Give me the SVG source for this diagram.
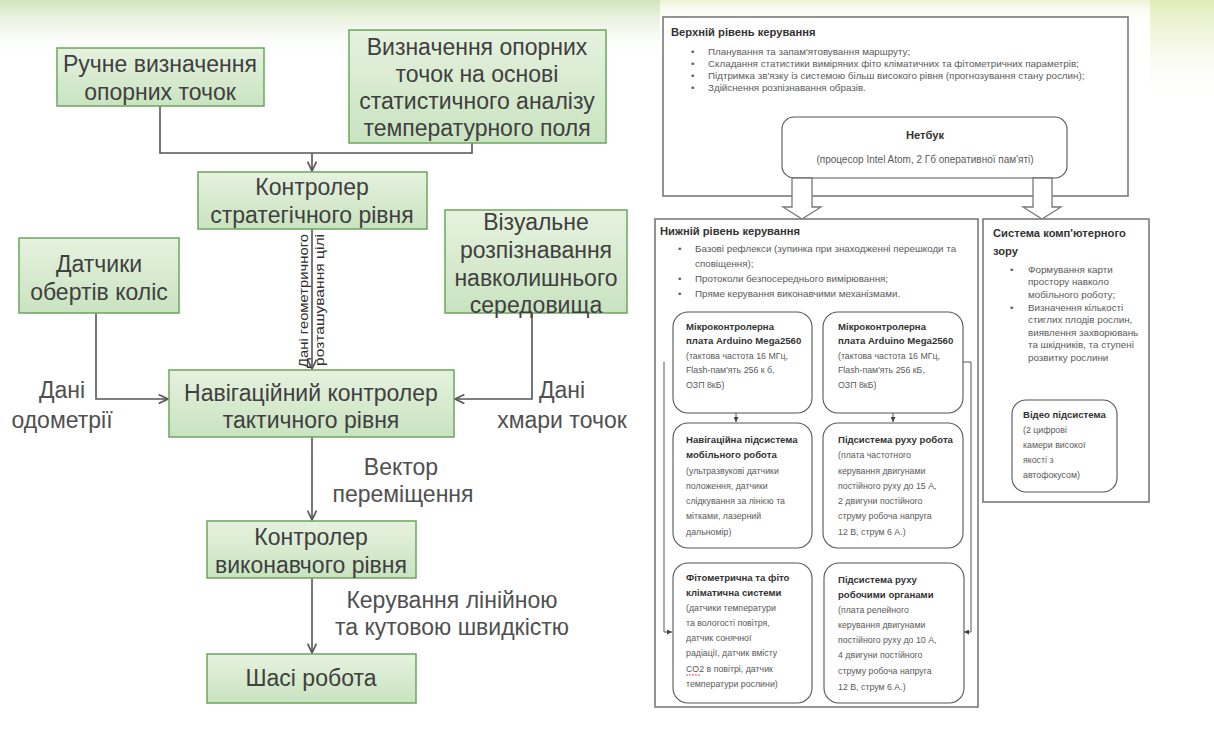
<svg xmlns="http://www.w3.org/2000/svg" width="1214" height="731" viewBox="0 0 1214 731">
  <style>
    .gbox { fill: url(#greenFill); stroke: #6aa65c; stroke-width: 1.5; }
    .gtxt { font-family: "Liberation Sans", Arial, sans-serif; font-size: 23px; fill: #404040; text-anchor: middle; }
    .ltxt { font-family: "Liberation Sans", Arial, sans-serif; font-size: 23px; fill: #505050; text-anchor: middle; }
    .rot { font-family: "Liberation Sans", Arial, sans-serif; font-size: 13px; fill: #303030; }
    .conn { fill: none; stroke: #555; stroke-width: 1.6; }
    .frame { fill: #fff; stroke: #7a7a7a; stroke-width: 1.6; }
    .rbox { fill: #fff; stroke: #555; stroke-width: 1.1; }
    .h { font-family: "Liberation Sans", Arial, sans-serif; font-size: 11.2px; font-weight: bold; fill: #333; }
    .hb { font-family: "Liberation Sans", Arial, sans-serif; font-size: 9.6px; font-weight: bold; fill: #333; }
    .t { font-family: "Liberation Sans", Arial, sans-serif; font-size: 9.8px; fill: #5a5a5a; }
    .tn { font-family: "Liberation Sans", Arial, sans-serif; font-size: 10px; fill: #5a5a5a; }
    .ts { font-family: "Liberation Sans", Arial, sans-serif; font-size: 8.8px; fill: #5a5a5a; }
    .thin { fill: none; stroke: #555; stroke-width: 1; }
    .blk { fill: #fff; stroke: #777; stroke-width: 1.3; }
  </style>
  <defs>
    <linearGradient id="greenFill" x1="0" y1="0" x2="0" y2="1">
      <stop offset="0" stop-color="#e6f2df"/>
      <stop offset="1" stop-color="#c9e3c0"/>
    </linearGradient>
    <linearGradient id="topHaze" x1="0" y1="0" x2="0" y2="1">
      <stop offset="0" stop-color="#c9e0b0" stop-opacity="0.85"/>
      <stop offset="1" stop-color="#ffffff" stop-opacity="0"/>
    </linearGradient>
    <linearGradient id="sideHaze" x1="0" y1="0" x2="0" y2="1">
      <stop offset="0" stop-color="#dfeab0" stop-opacity="0.9"/>
      <stop offset="1" stop-color="#ffffff" stop-opacity="0"/>
    </linearGradient>
    <marker id="open" viewBox="0 0 10 10" refX="9.5" refY="5" markerWidth="11" markerHeight="11" markerUnits="userSpaceOnUse" orient="auto">
      <path d="M1,1 L9.5,5 L1,9" fill="none" stroke="#555" stroke-width="1.5"/>
    </marker>
    <marker id="tiny" viewBox="0 0 6 6" refX="6" refY="3" markerWidth="5" markerHeight="5" markerUnits="userSpaceOnUse" orient="auto">
      <path d="M0,0 L6,3 L0,6 z" fill="#444"/>
    </marker>
  </defs>

  <!-- page background -->
  <rect x="0" y="0" width="1214" height="731" fill="#fff"/>
  <rect x="0" y="0" width="660" height="60" fill="url(#topHaze)"/>
  <rect x="660" y="0" width="490" height="22" fill="url(#sideHaze)" opacity="0.6"/>
  <rect x="1150" y="0" width="64" height="110" fill="url(#sideHaze)"/>

  <!-- ===== Left scheme: control hierarchy ===== -->
  <g id="connectors-left">
    <path class="conn" d="M160,106 V153 H472 V143"/>
    <path class="conn" d="M312,153 V171" marker-end="url(#open)"/>
    <path class="conn" d="M312,229 V369" marker-end="url(#open)"/>
    <path class="conn" d="M96,313 V399 H168" marker-end="url(#open)"/>
    <path class="conn" d="M532,313 V399 H455" marker-end="url(#open)"/>
    <path class="conn" d="M312,437 V520" marker-end="url(#open)"/>
    <path class="conn" d="M312,578 V653" marker-end="url(#open)"/>
    <text class="rot" transform="translate(308,368) rotate(-90)" textLength="134" lengthAdjust="spacingAndGlyphs">Дані геометричного</text>
    <text class="rot" transform="translate(324,366) rotate(-90)" textLength="132" lengthAdjust="spacingAndGlyphs">розташування цілі</text>
    <text class="ltxt" x="62" y="398">Дані</text>
    <text class="ltxt" x="62" y="428">одометрії</text>
    <text class="ltxt" x="562" y="398">Дані</text>
    <text class="ltxt" x="562" y="428">хмари точок</text>
    <text class="ltxt" x="401" y="475">Вектор</text>
    <text class="ltxt" x="403" y="502">переміщення</text>
    <text class="ltxt" x="452" y="608">Керування лінійною</text>
    <text class="ltxt" x="452" y="635">та кутовою швидкістю</text>
  </g>

  <g id="node-manual">
    <rect class="gbox" x="57" y="48" width="207" height="58"/>
    <text class="gtxt" x="160" y="72">Ручне визначення</text>
    <text class="gtxt" x="160" y="100">опорних точок</text>
  </g>

  <g id="node-stat">
    <rect class="gbox" x="349" y="30" width="257" height="113"/>
    <text class="gtxt" x="477" y="55">Визначення опорних</text>
    <text class="gtxt" x="477" y="82">точок на  основі</text>
    <text class="gtxt" x="477" y="109">статистичного аналізу</text>
    <text class="gtxt" x="477" y="136">температурного поля</text>
  </g>

  <g id="node-strategic">
    <rect class="gbox" x="198" y="172" width="229" height="57"/>
    <text class="gtxt" x="312" y="195">Контролер</text>
    <text class="gtxt" x="312" y="223">стратегічного рівня</text>
  </g>

  <g id="node-wheels">
    <rect class="gbox" x="19" y="238" width="160" height="75"/>
    <text class="gtxt" x="99" y="272">Датчики</text>
    <text class="gtxt" x="99" y="300">обертів коліс</text>
  </g>

  <g id="node-vision">
    <rect class="gbox" x="445" y="210" width="182" height="103"/>
    <text class="gtxt" x="536" y="230">Візуальне</text>
    <text class="gtxt" x="536" y="258">розпізнавання</text>
    <text class="gtxt" x="536" y="286">навколишнього</text>
    <text class="gtxt" x="536" y="313">середовища</text>
  </g>

  <g id="node-tactical">
    <rect class="gbox" x="169" y="370" width="285" height="67"/>
    <text class="gtxt" x="311" y="401">Навігаційний контролер</text>
    <text class="gtxt" x="311" y="428">тактичного рівня</text>
  </g>

  <g id="node-executive">
    <rect class="gbox" x="207" y="521" width="209" height="57"/>
    <text class="gtxt" x="311" y="545">Контролер</text>
    <text class="gtxt" x="311" y="573">виконавчого  рівня</text>
  </g>

  <g id="node-chassis">
    <rect class="gbox" x="207" y="654" width="209" height="49"/>
    <text class="gtxt" x="311" y="686">Шасі робота</text>
  </g>

  <!-- ===== Right scheme: control levels ===== -->
  <g id="upper-level">
    <rect class="frame" x="663" y="17" width="465" height="179"/>
    <text class="h" x="671" y="36">Верхній рівень керування</text>
    <g class="t">
      <text x="691" y="55">•</text><text x="708" y="55">Планування та запам'ятовування маршруту;</text>
      <text x="691" y="67">•</text><text x="708" y="67">Складання статистики виміряних фіто кліматичних та фітометричних параметрів;</text>
      <text x="691" y="79">•</text><text x="708" y="79">Підтримка зв'язку із системою більш високого рівня (прогнозування стану рослин);</text>
      <text x="691" y="91">•</text><text x="708" y="91">Здійснення розпізнавання образів.</text>
    </g>
  </g>

  <g id="netbook">
    <rect class="rbox" x="782" y="117" width="285" height="61" rx="12"/>
    <text class="h" x="925" y="139" text-anchor="middle">Нетбук</text>
    <text class="tn" x="925" y="163" text-anchor="middle">(процесор Intel Atom, 2 Гб оперативної пам'яті)</text>
  </g>

  <g id="block-arrows">
    <path class="blk" d="M792,178 H812 V207 H821 L802,219 L783,207 H792 Z"/>
    <path class="blk" d="M1033,178 H1052 V207 H1061 L1042,219 L1023,207 H1033 Z"/>
  </g>

  <g id="lower-level">
    <rect class="frame" x="655" y="219" width="323" height="488"/>
    <text class="h" x="660" y="235">Нижній рівень керування</text>
    <g class="t">
      <text x="678" y="252">•</text><text x="695" y="252">Базові рефлекси (зупинка при знаходженні перешкоди та</text>
      <text x="695" y="267">сповіщення);</text>
      <text x="678" y="282">•</text><text x="695" y="282">Протоколи безпосереднього вимірювання;</text>
      <text x="678" y="297">•</text><text x="695" y="297">Пряме керування виконавчими механізмами.</text>
    </g>
  </g>

  <g id="connectors-lower">
    <path class="thin" d="M736,413 V422" marker-end="url(#tiny)"/>
    <path class="thin" d="M893,413 V422" marker-end="url(#tiny)"/>
    <path class="thin" d="M664,362 V632 H672" marker-end="url(#tiny)"/>
    <path class="thin" d="M963,362 H971 V632 H964" marker-end="url(#tiny)"/>
  </g>

  <g id="mcu-left">
    <rect class="rbox" x="673" y="312" width="139" height="101" rx="15"/>
    <text class="hb" x="686" y="330">Мікроконтролерна</text>
    <text class="hb" x="686" y="344">плата Arduino  Mega2560</text>
    <text class="ts" x="686" y="359">(тактова частота 16 МГц,</text>
    <text class="ts" x="686" y="373">Flash-пам'ять 256 к б,</text>
    <text class="ts" x="686" y="388">ОЗП  8кБ)</text>
  </g>

  <g id="mcu-right">
    <rect class="rbox" x="823" y="312" width="140" height="101" rx="15"/>
    <text class="hb" x="838" y="330">Мікроконтролерна</text>
    <text class="hb" x="838" y="344">плата Arduino  Mega2560</text>
    <text class="ts" x="838" y="359">(тактова частота 16 МГц,</text>
    <text class="ts" x="838" y="373">Flash-пам'ять 256 кБ,</text>
    <text class="ts" x="838" y="388">ОЗП  8кБ)</text>
  </g>

  <g id="navigation-subsystem">
    <rect class="rbox" x="673" y="423" width="139" height="125" rx="15"/>
    <text class="hb" x="686" y="443">Навігаційна підсистема</text>
    <text class="hb" x="686" y="458">мобільного робота</text>
    <text class="ts" x="686" y="474">(ультразвукові датчики</text>
    <text class="ts" x="686" y="489">положення,  датчики</text>
    <text class="ts" x="686" y="504">слідкування за лінією та</text>
    <text class="ts" x="686" y="519">мітками,  лазерний</text>
    <text class="ts" x="686" y="535">дальномір)</text>
  </g>

  <g id="motion-subsystem">
    <rect class="rbox" x="823" y="423" width="140" height="125" rx="15"/>
    <text class="hb" x="838" y="443">Підсистема руху робота</text>
    <text class="ts" x="838" y="458">(плата частотного</text>
    <text class="ts" x="838" y="474">керування двигунами</text>
    <text class="ts" x="838" y="489">постійного руху до 15 А,</text>
    <text class="ts" x="838" y="504">2 двигуни постійного</text>
    <text class="ts" x="838" y="519">струму робоча напруга</text>
    <text class="ts" x="838" y="535">12 В, струм 6 А.)</text>
  </g>

  <g id="climate-subsystem">
    <rect class="rbox" x="673" y="563" width="139" height="140" rx="15"/>
    <text class="hb" x="686" y="581">Фітометрична та фіто</text>
    <text class="hb" x="686" y="596">кліматична системи</text>
    <text class="ts" x="686" y="611">(датчики температури</text>
    <text class="ts" x="686" y="626">та вологості повітря,</text>
    <text class="ts" x="686" y="641">датчик сонячної</text>
    <text class="ts" x="686" y="656">радіації, датчик вмісту</text>
    <text class="ts" x="686" y="672">CO2 в повітрі,  датчик</text>
    <line x1="686" y1="675" x2="701" y2="675" stroke="#d04040" stroke-width="0.9" stroke-dasharray="2 1"/>
    <text class="ts" x="686" y="687">температури рослини)</text>
  </g>

  <g id="actuator-subsystem">
    <rect class="rbox" x="824" y="563" width="140" height="140" rx="15"/>
    <text class="hb" x="838" y="583">Підсистема руху</text>
    <text class="hb" x="838" y="598">робочими органами</text>
    <text class="ts" x="838" y="613">(плата релейного</text>
    <text class="ts" x="838" y="628">керування двигунами</text>
    <text class="ts" x="838" y="643">постійного руху до 10 А,</text>
    <text class="ts" x="838" y="658">4 двигуни постійного</text>
    <text class="ts" x="838" y="674">струму робоча напруга</text>
    <text class="ts" x="838" y="690">12 В, струм 6 А.)</text>
  </g>

  <g id="vision-system">
    <rect class="frame" x="983" y="219" width="166" height="283"/>
    <text class="h" x="993" y="237">Система комп'ютерного</text>
    <text class="h" x="993" y="255">зору</text>
    <g class="t">
      <text x="1010" y="273">•</text><text x="1028" y="273">Формування карти</text>
      <text x="1028" y="285">простору навколо</text>
      <text x="1028" y="298">мобільного роботу;</text>
      <text x="1010" y="311">•</text><text x="1028" y="311">Визначення кількості</text>
      <text x="1028" y="323">стиглих плодів рослин,</text>
      <text x="1028" y="336">виявлення захворювань</text>
      <text x="1028" y="348">та шкідників, та ступені</text>
      <text x="1028" y="361">розвитку рослини</text>
    </g>
  </g>

  <g id="video-subsystem">
    <rect class="rbox" x="1012" y="400" width="105" height="92" rx="14"/>
    <text class="hb" x="1023" y="418">Відео підсистема</text>
    <text class="ts" x="1023" y="433">(2 цифрові</text>
    <text class="ts" x="1023" y="448">камери високої</text>
    <text class="ts" x="1023" y="463">якості з</text>
    <text class="ts" x="1023" y="478">автофокусом)</text>
  </g>
</svg>
